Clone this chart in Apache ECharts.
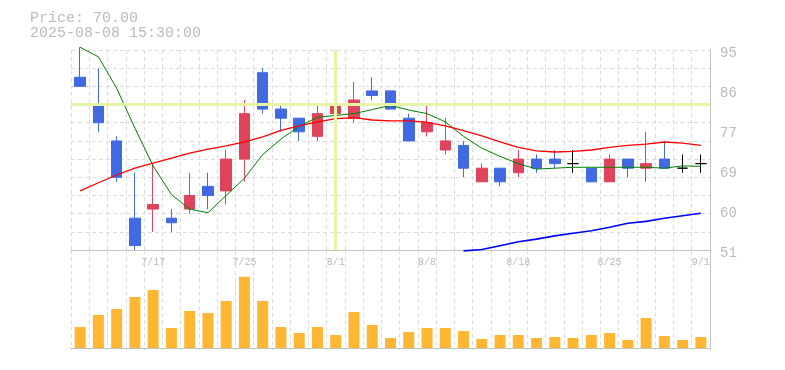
<!DOCTYPE html>
<html>
<head>
<meta charset="utf-8">
<script src="https://cdn.jsdelivr.net/npm/echarts@6/dist/echarts.min.js"></script>
<style>
  html, body { margin: 0; padding: 0; background: #fff; }
  #chart { width: 785px; height: 370px; }
</style>
</head>
<body>
<div id="chart"></div>
<script>
// ---- data ----
const dates = ['7/11','7/14','7/15','7/16','7/17','7/18','7/22','7/23','7/24','7/25',
  '7/28','7/29','7/30','7/31','8/1','8/4','8/5','8/6','8/7','8/8',
  '8/12','8/13','8/14','8/15','8/18','8/19','8/20','8/21','8/22','8/25',
  '8/26','8/27','8/28','8/29','9/1'];
// [open, close, low, high]
const ohlc = [
  [89, 87, 87, 95.6], [83, 79, 77, 91], [75, 67, 66, 76], [58, 52, 51, 68], [60, 61, 55, 70],
  [58, 57, 55, 60], [60, 63, 59, 68], [65, 63, 60, 68], [64, 71, 61, 73], [71, 81, 66, 84],
  [90, 82, 81, 91], [82, 80, 77, 83], [80, 77, 75, 80], [76, 81, 75, 83], [81, 83, 78, 83],
  [80, 84, 79, 88], [86, 85, 84, 89], [86, 82, 82, 86], [80, 75, 75, 81], [77, 79, 76, 83],
  [73, 75, 72, 80], [74, 69, 67, 75], [66, 69, 66, 70], [69, 66, 65, 69], [68, 71, 67, 73],
  [71, 69, 68, 72], [71, 70, 69, 73], [70, 70, 68, 73], [69, 66, 66, 69], [66, 71, 66, 72],
  [71, 69, 67, 71], [69, 70, 66, 77], [71, 69, 69, 75], [69, 69, 68, 72], [70, 70, 68, 72]
];
const maShort = [95.6, 93.5, 86.6, 77.8, 69.5, 63.2, 60.0, 59.2, 63.0, 66.8,
  72.0, 75.4, 78.2, 80.2, 80.6, 81.0, 81.9, 82.8, 81.8, 81.0,
  79.2, 76.0, 73.4, 71.6, 70.0, 68.8, 69.0, 69.2, 69.2, 69.2,
  69.2, 69.2, 69.0, 69.5, 69.4];
const maMid = [64.0, 65.8, 67.5, 69.0, 70.1, 71.2, 72.3, 73.2, 73.9, 74.8,
  75.9, 77.3, 78.3, 79.2, 79.9, 80.1, 79.6, 79.4, 79.4, 79.1,
  78.3, 77.25, 76.1, 74.8, 73.6, 72.8, 72.56, 72.7, 73.0, 73.6,
  74.0, 74.3, 74.76, 74.5, 74.0];
const maLong = [null, null, null, null, null, null, null, null, null, null,
  null, null, null, null, null, null, null, null, null, null,
  null, 50.8, 51.1, 51.95, 52.8, 53.4, 54.1, 54.7, 55.25, 56.0,
  56.9, 57.3, 58.0, 58.55, 59.1];
const volume = [21000, 33000, 39000, 51000, 58000, 20000, 37000, 35000, 47000, 71300,
  47000, 21000, 15000, 21000, 13000, 36000, 23000, 10000, 16000, 20000,
  20000, 17000, 9000, 13000, 13000, 10000, 11000, 10000, 13000, 15000,
  8000, 30000, 12000, 8000, 11000];
const priceMin = 51, priceMax = 95, priceStep = 8.8;
const crossDate = '8/1';
const crossPrice = 83.05;
const headerLines = ['Price: 70.00', '2025-08-08 15:30:00'];

// ---- chart ----
const MONO = '"Liberation Mono", "DejaVu Sans Mono", monospace';
const gridColor = '#dcdcdc';
const axisColor = '#c4c4c4';
const labelColor = '#bbbbbb';
const upColor = '#e0435c';
const downColor = '#4169e1';

const chart = echarts.init(document.getElementById('chart'), null, { renderer: 'canvas' });
chart.setOption({
  animation: false,
  backgroundColor: '#ffffff',
  graphic: headerLines.map((t, i) => ({
    type: 'text', left: 30, top: 11 + i * 15,
    style: { text: t, font: '15px ' + MONO, fill: labelColor }
  })),
  grid: [
    { left: 71, right: 75, top: 50, height: 200 },
    { left: 71, right: 75, top: 250, height: 100 }
  ],
  xAxis: [
    {
      type: 'category', gridIndex: 0, data: dates, boundaryGap: true,
      axisLine: { show: true, lineStyle: { color: axisColor, width: 1 } },
      axisTick: { show: false },
      axisLabel: {
        show: true, interval: (i) => i % 5 === 4, margin: 7,
        color: labelColor, fontFamily: MONO, fontSize: 10
      },
      splitLine: { show: true, interval: 0, lineStyle: { color: gridColor, type: [4, 3], width: 1 } }
    },
    {
      type: 'category', gridIndex: 1, data: dates, boundaryGap: true,
      axisLine: { show: true, lineStyle: { color: axisColor, width: 1 } },
      axisTick: { show: false },
      axisLabel: { show: false },
      splitLine: { show: true, interval: 0, lineStyle: { color: gridColor, type: [4, 3], width: 1 } }
    }
  ],
  yAxis: [
    {
      type: 'value', gridIndex: 0, position: 'right',
      min: priceMin, max: priceMax, interval: priceStep,
      axisLine: { show: true, lineStyle: { color: axisColor, width: 1 } },
      axisTick: { show: false },
      splitLine: { show: false },
      axisLabel: {
        margin: 10, color: labelColor, fontFamily: MONO, fontSize: 14,
        verticalAlign: 'top', lineHeight: 6,
        formatter: (v) => String(Math.round(v))
      }
    },
    {
      type: 'value', gridIndex: 0, min: 0, max: 11, interval: 1,
      axisLine: { show: false }, axisTick: { show: false }, axisLabel: { show: false },
      splitLine: { show: true, lineStyle: { color: gridColor, type: [4, 3], width: 1 } }
    },
    {
      type: 'value', gridIndex: 1, position: 'right', min: -2000, max: 98000,
      axisLine: { show: true, lineStyle: { color: axisColor, width: 1 } },
      axisTick: { show: false }, axisLabel: { show: false },
      splitLine: { show: false }
    }
  ],
  series: [
    {
      name: 'cross', type: 'line', xAxisIndex: 0, yAxisIndex: 0, data: [], z: 1,
      markLine: {
        silent: true, symbol: ['none', 'none'], animation: false,
        label: { show: false },
        lineStyle: { color: '#e6f4a8', width: 3, type: 'solid' },
        emphasis: { disabled: true },
        data: [ { xAxis: crossDate }, { yAxis: crossPrice } ]
      }
    },
    {
      name: 'price', type: 'candlestick', xAxisIndex: 0, yAxisIndex: 0,
      data: ohlc.map(d => [d[0], d[1], d[2], d[3]]),
      barWidth: 11, clip: false, z: 3,
      itemStyle: {
        color: upColor, color0: downColor,
        borderColor: upColor, borderColor0: downColor,
        borderColorDoji: '#000000', borderWidth: 1
      }
    },
    {
      name: 'MA short', type: 'line', xAxisIndex: 0, yAxisIndex: 0, data: maShort,
      symbol: 'none', clip: false, z: 4,
      lineStyle: { color: '#008000', width: 1 }
    },
    {
      name: 'MA mid', type: 'line', xAxisIndex: 0, yAxisIndex: 0, data: maMid,
      symbol: 'none', clip: false, z: 4,
      lineStyle: { color: '#ff0000', width: 1.3 }
    },
    {
      name: 'MA long', type: 'line', xAxisIndex: 0, yAxisIndex: 0, data: maLong,
      symbol: 'none', clip: false, z: 4,
      lineStyle: { color: '#0000ff', width: 1.6 }
    },
    {
      name: 'volume', type: 'bar', xAxisIndex: 1, yAxisIndex: 2, data: volume,
      barWidth: 11, itemStyle: { color: '#ffb733' }
    }
  ]
});
</script>
</body>
</html>
